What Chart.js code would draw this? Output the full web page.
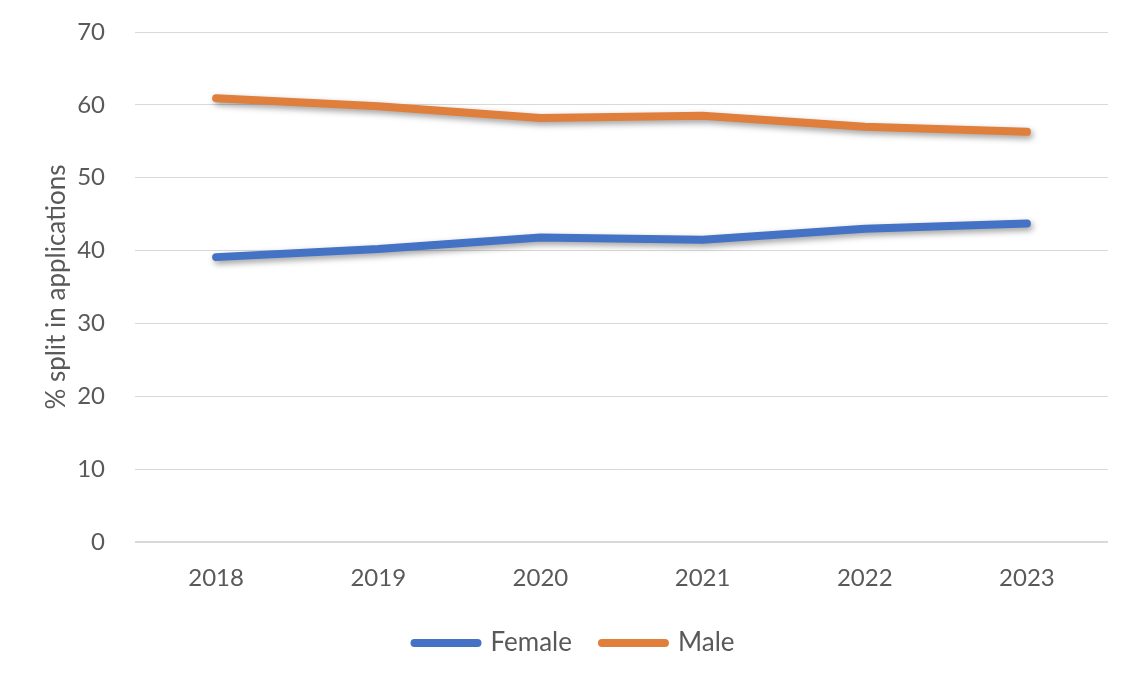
<!DOCTYPE html>
<html>
<head>
<meta charset="utf-8">
<script src="https://cdn.jsdelivr.net/npm/chart.js@4.4.0/dist/chart.umd.min.js"></script>
<style>
  html, body { margin: 0; padding: 0; background: #ffffff; }
  #wrap { width: 1134px; height: 680px; position: relative; }
</style>
</head>
<body>
<div id="wrap"><canvas id="c" width="1134" height="680"></canvas></div>
<script>
const categories = ['2018', '2019', '2020', '2021', '2022', '2023'];
const femaleValues = [39.1, 40.2, 41.8, 41.5, 43.0, 43.7];
const maleValues = [60.9, 59.8, 58.2, 58.5, 57.0, 56.3];
const yTitle = '% split in applications';
const seriesNames = ['Female', 'Male'];
const seriesColors = ['#4472C4', '#E07E3C'];

const FONT = 'Lato, "Open Sans", sans-serif';
const TEXT = '#595959';

const shadowPlugin = {
  id: 'lineShadow',
  beforeDatasetDraw(chart) {
    const ctx = chart.ctx;
    ctx.save();
    ctx.shadowColor = 'rgba(0,0,0,0.38)';
    ctx.shadowBlur = 6;
    ctx.shadowOffsetX = 2;
    ctx.shadowOffsetY = 3;
  },
  afterDatasetDraw(chart) {
    chart.ctx.restore();
  }
};

function makeDataset(i, values) {
  return {
    label: seriesNames[i],
    data: values,
    borderColor: seriesColors[i],
    backgroundColor: seriesColors[i],
    borderWidth: 8,
    borderCapStyle: 'round',
    borderJoinStyle: 'round',
    pointRadius: 0,
    pointHoverRadius: 0,
    tension: 0,
    fill: false
  };
}

new Chart(document.getElementById('c'), {
  type: 'line',
  data: {
    labels: categories,
    datasets: [makeDataset(0, femaleValues), makeDataset(1, maleValues)]
  },
  options: {
    responsive: false,
    animation: false,
    devicePixelRatio: 1,
    layout: { padding: { left: 41, right: 26, top: 32, bottom: 14 } },
    plugins: {
      tooltip: { enabled: false },
      legend: {
        position: 'bottom',
        labels: {
          usePointStyle: true,
          pointStyle: 'line',
          pointStyleWidth: 63,
          boxHeight: 26,
          padding: 30,
          color: TEXT,
          font: { family: FONT, size: 26 },
          generateLabels(chart) {
            return chart.data.datasets.map((ds, i) => ({
              text: ds.label,
              fillStyle: ds.borderColor,
              strokeStyle: ds.borderColor,
              fontColor: TEXT,
              lineWidth: 8,
              lineCap: 'round',
              pointStyle: 'line',
              hidden: false,
              datasetIndex: i
            }));
          }
        }
      }
    },
    scales: {
      x: {
        offset: true,
        grid: { display: false, drawTicks: false },
        border: { display: false },
        ticks: { color: TEXT, padding: 22, font: { family: FONT, size: 24 } },
        afterFit(scale) { scale.height = 58; }
      },
      y: {
        min: 0,
        max: 70,
        grid: {
          color: '#d9d9d9',
          lineWidth: (ctx) => (ctx.tick && ctx.tick.value === 0 ? 2 : 1),
          drawTicks: false
        },
        border: { display: false },
        ticks: { stepSize: 10, color: TEXT, padding: 30, font: { family: FONT, size: 24 } },
        title: {
          display: true,
          text: yTitle,
          color: TEXT,
          font: { family: FONT, size: 26 },
          padding: { top: 0, bottom: 8 }
        },
        afterFit(scale) {
          scale.width = 94;
          scale.paddingTop = 0;
          scale.paddingBottom = 0;
        }
      }
    }
  },
  plugins: [shadowPlugin]
});
</script>
</body>
</html>
